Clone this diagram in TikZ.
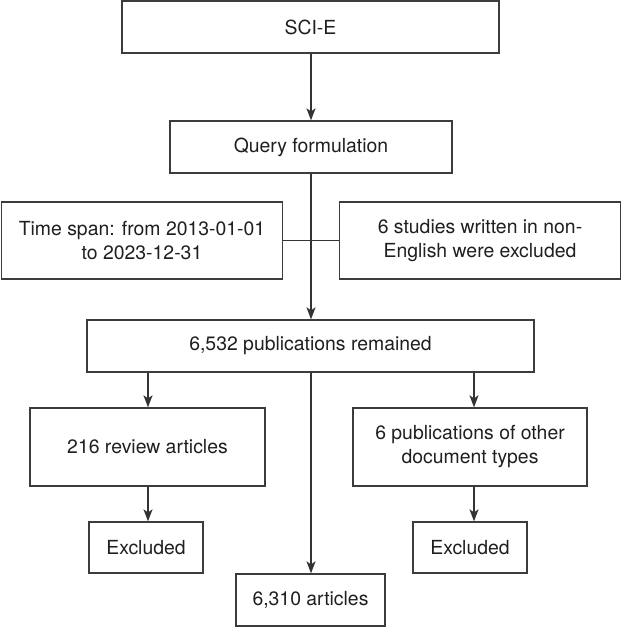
\documentclass[tikz,border=0pt]{standalone}
\usepackage{fontspec}
\setmainfont{TeX Gyre Heros}
\usetikzlibrary{arrows.meta}
\definecolor{boxgray}{HTML}{3C3C3C}
\definecolor{linegray}{HTML}{333333}
\begin{document}
\begin{tikzpicture}[x=1bp,y=-1bp,
  box/.style={draw=boxgray,line width=1.3bp,fill=white,inner sep=0pt,align=center,
    font=\fontsize{19.4bp}{24bp}\selectfont,text=black!88},
  arr/.style={draw=linegray,line width=1.3bp,-{Stealth[length=12bp,width=9bp,inset=3bp]}},
  ln/.style={draw=linegray,line width=1.3bp}]
\useasboundingbox (0,0) rectangle (622,627);

\node[box,minimum width=377bp,minimum height=52bp] (sci) at (310.5,27) {SCI-E};
\node[box,minimum width=282bp,minimum height=52bp] (query) at (311,147) {Query formulation};
\node[box,minimum width=281bp,minimum height=77bp] (time) at (142,240.5) {Time span: from 2013-01-01\\to 2023-12-31};
\node[box,minimum width=281bp,minimum height=77bp] (nonen) at (480,240.5) {6 studies written in non-\\English were excluded};
\node[box,minimum width=447bp,minimum height=52bp] (remain) at (310.5,346) {6,532 publications remained};
\node[box,minimum width=235bp,minimum height=78bp] (review) at (147.5,447) {216 review articles};
\node[box,minimum width=234bp,minimum height=78bp] (other) at (470,447) {6 publications of other\\document types};
\node[box,minimum width=114bp,minimum height=51bp] (exclL) at (146,547.5) {Excluded};
\node[box,minimum width=114bp,minimum height=51bp] (exclR) at (470,547.5) {Excluded};
\node[box,minimum width=149bp,minimum height=52bp] (final) at (310.5,600) {6,310 articles};

\coordinate (cm) at (311,0);
\coordinate (cl) at (148,0);
\coordinate (cr) at (474,0);

\draw[arr] (sci.south -| cm) -- (query.north -| cm);
\draw[ln] (time.east) -- (nonen.west);
\draw[arr] (query.south -| cm) -- (remain.north -| cm);
\draw[arr] (remain.south -| cl) -- (review.north -| cl);
\draw[arr] (remain.south -| cr) -- (other.north -| cr);
\draw[arr] (review.south -| cl) -- (exclL.north -| cl);
\draw[arr] (other.south -| cr) -- (exclR.north -| cr);
\draw[arr] (remain.south -| cm) -- (final.north -| cm);
\end{tikzpicture}
\end{document}
